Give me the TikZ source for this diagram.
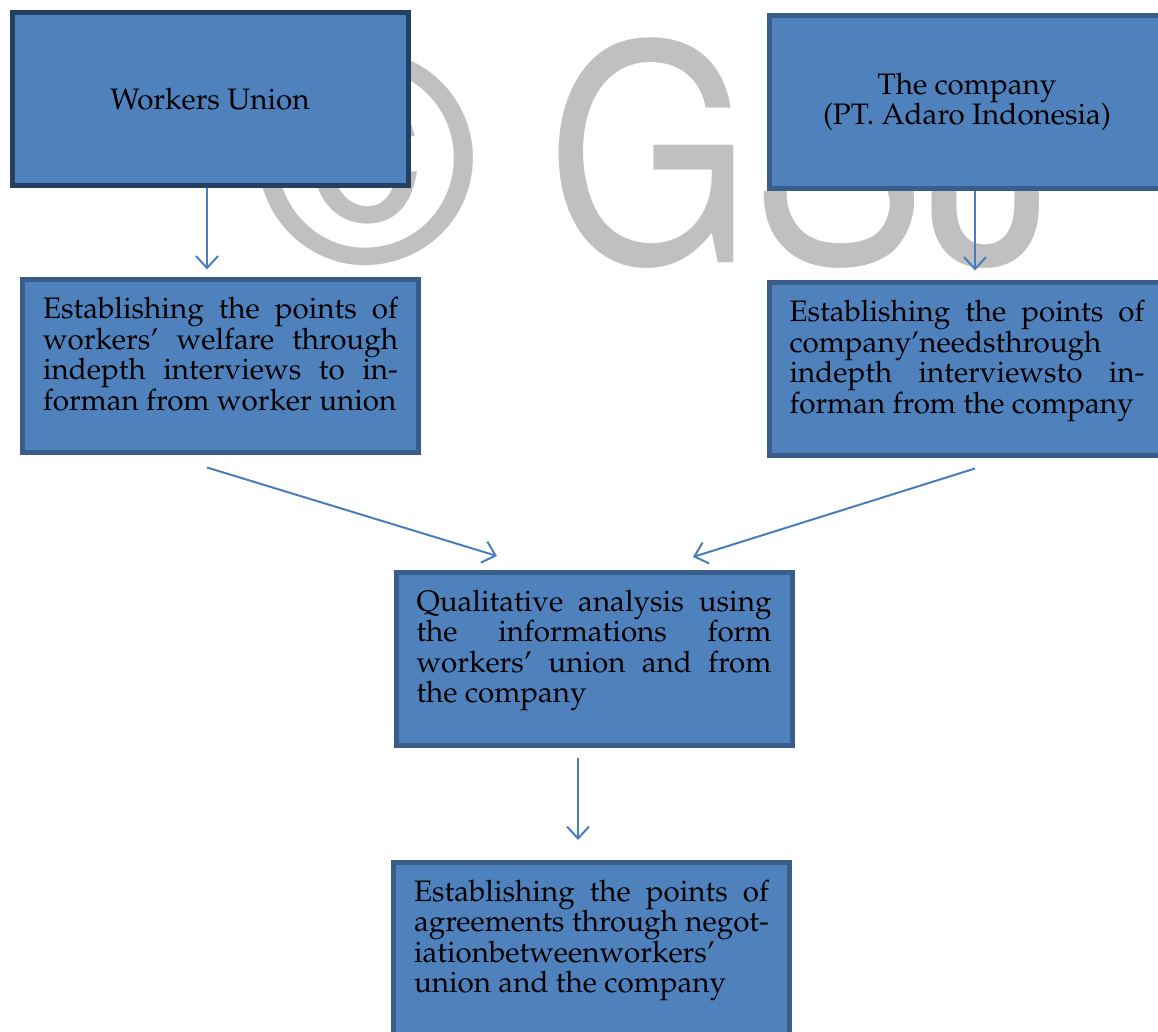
\documentclass[tikz,border=0pt]{standalone}
\usepackage[T1]{fontenc}
\usepackage{textcomp}
\usepackage{mathpazo}
\usepackage{tikz}
\usetikzlibrary{arrows.meta,positioning}
\definecolor{office}{RGB}{79,129,189}
\definecolor{rim}{RGB}{56,93,138}
\definecolor{navy}{RGB}{36,64,97}
\definecolor{wire}{RGB}{74,126,187}
\definecolor{mark}{RGB}{192,192,192}
\tikzset{
  >={Straight Barb[length=6pt,width=11pt]},
  box/.style={draw=#1,fill=office,line width=2.5pt,minimum width=198pt,
    minimum height=86.5pt,inner sep=0pt,align=center,
    font=\fontsize{14.8}{15.2}\selectfont},
  box/.default=rim,
  flow/.style={->,line width=1pt,draw=#1},
  flow/.default=wire,
  wmark/.style={text=mark,inner sep=0pt,transform shape,
    font=\fontfamily{phv}\fontsize{151}{151}\selectfont},
}
% top aligned, justified text of a box
\newcommand{\flowtext}[1]{\begin{minipage}[t][69pt][t]{177.5pt}
  \hyphenpenalty=10000\tolerance=10000
  \spaceskip=.25em plus .4em minus .1em #1\end{minipage}}

\begin{document}
\begin{tikzpicture}[x=0.5pt,y=-0.5pt]
  \useasboundingbox (0,0) rectangle (1158,1032);
  % watermark behind the boxes
  \node[wmark,anchor=base west,scale=0.93] (copy) at (262,260) {\textcopyright};
  \node[wmark,anchor=base west,xscale=0.87] (gsj) at (547,262) {GSJ};
  % boxes
  \node[box=navy] (union) at (210,99.5) {Workers Union};
  \node[box] (company) at (967,102) {The company\\(PT. Adaro Indonesia)};
  \foreach \n/\x/\y/\t in {
    welfare/220.5/366.5/Establishing the points of\linebreak workers' welfare through\linebreak indepth interviews to in-\linebreak forman from worker union,
    needs/967/369.5/Establishing the points of\linebreak company'needsthrough\newline indepth interviewsto in-\linebreak forman from the company,
    analysis/594/659/Qualitative analysis using\linebreak the informations form\linebreak workers' union and from\linebreak the company,
    agreement/591.5/949/Establishing the points of\linebreak agreements through negot-\linebreak iationbetweenworkers'\newline union and the company}
    \node[box] (\n) at (\x,\y) {\flowtext{\t}};
  % connectors
  \draw[flow] ([xshift=-1.5pt]union.south) -- ([xshift=-1.5pt,yshift=4pt]union.south |- welfare.north);
  \draw[flow] ([xshift=4pt]company.south) -- ([xshift=4pt,yshift=5pt]company.south |- needs.north);
  \draw[flow] ([shift={(-6.75pt,-6pt)}]welfare.south) -- ([shift={(-48.5pt,7pt)}]analysis.north);
  \draw[flow] ([shift={(4pt,-5pt)}]needs.south) -- ([shift={(49.5pt,6.5pt)}]analysis.north);
  \draw[flow] ([shift={(-8pt,-5pt)}]analysis.south) -- ([shift={(-8pt,10pt)}]analysis.south |- agreement.north);
\end{tikzpicture}
\end{document}
